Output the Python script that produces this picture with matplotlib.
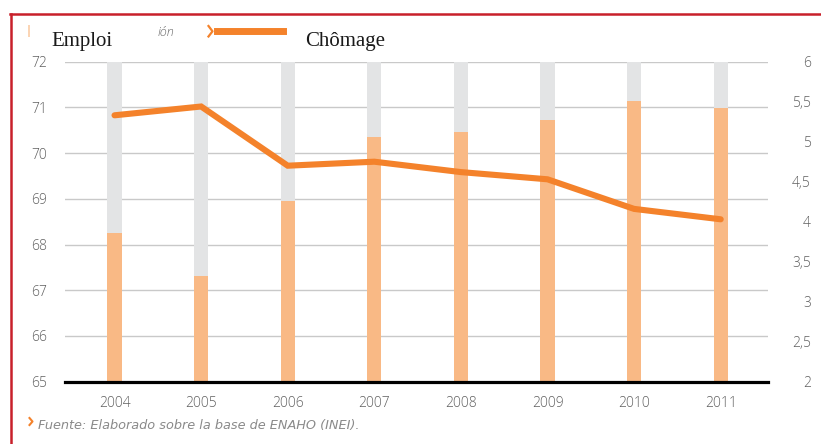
import matplotlib
matplotlib.use("Agg")
import matplotlib.pyplot as plt
from matplotlib.lines import Line2D
from matplotlib.patches import Rectangle

# Series
years = ["2004", "2005", "2006", "2007", "2008", "2009", "2010", "2011"]
emploi = [68.25, 67.32, 68.96, 70.35, 70.47, 70.73, 71.14, 70.99]
chomage = [5.33, 5.44, 4.70, 4.75, 4.62, 4.53, 4.16, 4.03]

left_ticks = [65, 66, 67, 68, 69, 70, 71, 72]
right_ticks = [2, 2.5, 3, 3.5, 4, 4.5, 5, 5.5, 6]
right_labels = ["2", "2,5", "3", "3,5", "4", "4,5", "5", "5,5", "6"]

BAR_ORANGE = "#f9b985"
TRACK_GRAY = "#e3e4e5"
LINE_ORANGE = "#f4822b"
LABEL_GRAY = "#606060"
GRID_GRAY = "#c9c9c9"
RED = "#c8202a"

plt.rcParams["font.family"] = ["Open Sans", "DejaVu Sans"]

fig = plt.figure(figsize=(8.21, 4.44), dpi=100)
W, H = 821, 444

# axes box in pixels: x 65..768, y 61.7..381.7
ax = fig.add_axes([65 / W, 1 - 381.7 / H, (768 - 65) / W, (381.7 - 61.7) / H])
ax2 = ax.twinx()

x = list(range(len(years)))
ymin, ymax = left_ticks[0], left_ticks[-1]
ax.set_ylim(ymin, ymax)
ax.set_xlim(-0.572, 7.546)
ax2.set_ylim(right_ticks[0], right_ticks[-1])

# horizontal grid from the left scale
for t in left_ticks[1:]:
    ax.axhline(t, color=GRID_GRAY, lw=1.0, zorder=1)

bar_w = 0.165
ax.bar(x, [ymax - ymin] * len(x), bottom=ymin, width=bar_w,
       color=TRACK_GRAY, zorder=2)
ax.bar(x, [v - ymin for v in emploi], bottom=ymin, width=bar_w,
       color=BAR_ORANGE, zorder=3)

ax.axhline(ymin, color="black", lw=2.3, zorder=4, clip_on=False)

ax2.plot(x, chomage, color=LINE_ORANGE, lw=4.4, solid_capstyle="round",
         solid_joinstyle="miter", zorder=5)

ax.set_zorder(1)
ax2.set_zorder(2)
ax2.patch.set_visible(False)

for a in (ax, ax2):
    for s in a.spines.values():
        s.set_visible(False)

ax.set_xticks(x)
ax.set_xticklabels(years)
ax.set_yticks(left_ticks)
ax.tick_params(axis="x", length=0, pad=10, labelsize=10, labelcolor=LABEL_GRAY)
ax.tick_params(axis="y", length=0, pad=13, labelsize=10, labelcolor=LABEL_GRAY)
for lab in ax.get_xticklabels() + ax.get_yticklabels():
    lab.set_fontweight("light")

ax2.set_yticks(right_ticks)
ax2.set_yticklabels(right_labels)
ax2.tick_params(axis="y", length=0, pad=31, labelsize=10, labelcolor=LABEL_GRAY)
for lab in ax2.get_yticklabels():
    lab.set_horizontalalignment("right")
    lab.set_fontweight("light")

# red frame, top and left
fig.add_artist(Line2D([10 / W, 1], [1 - 14.3 / H] * 2, color=RED, lw=1.8,
                      transform=fig.transFigure))
fig.add_artist(Line2D([10.5 / W] * 2, [0, 1 - 14.3 / H], color=RED, lw=1.8,
                      transform=fig.transFigure))

# legend header
fig.add_artist(Rectangle((28 / W, 1 - 37 / H), 2 / W, 12 / H, color="#fbd5b5",
                         transform=fig.transFigure, lw=0))
fig.text(51 / W, 1 - 46 / H, "Emploi", family="Liberation Serif", fontsize=15,
         color="#1a1a1a", va="baseline")
fig.text(158 / W, 1 - 33 / H, "ión", fontsize=9, style="italic",
         fontweight="light", color="#666666", va="center")
fig.add_artist(Line2D([208.5 / W, 212.5 / W, 208.5 / W],
                      [1 - 26 / H, 1 - 31.3 / H, 1 - 36.5 / H],
                      color=LINE_ORANGE, lw=1.6, transform=fig.transFigure))
fig.add_artist(Line2D([217 / W, 283 / W], [1 - 31.3 / H] * 2, color=LINE_ORANGE,
                      lw=5.0, transform=fig.transFigure))
fig.text(305 / W, 1 - 46 / H, "Chômage", family="Liberation Serif", fontsize=15,
         color="#1a1a1a", va="baseline")

# source note
fig.add_artist(Line2D([29.5 / W, 32.5 / W, 29.5 / W],
                      [1 - 418 / H, 1 - 421.5 / H, 1 - 425 / H],
                      color=LINE_ORANGE, lw=1.5, transform=fig.transFigure))
fig.text(38 / W, 1 - 425 / H, "Fuente: Elaborado sobre la base de ENAHO (INEI).",
         family="DejaVu Sans", fontsize=9.3, style="italic", color="#8a8a8a",
         va="center")

fig.savefig("out.png", dpi=100)
